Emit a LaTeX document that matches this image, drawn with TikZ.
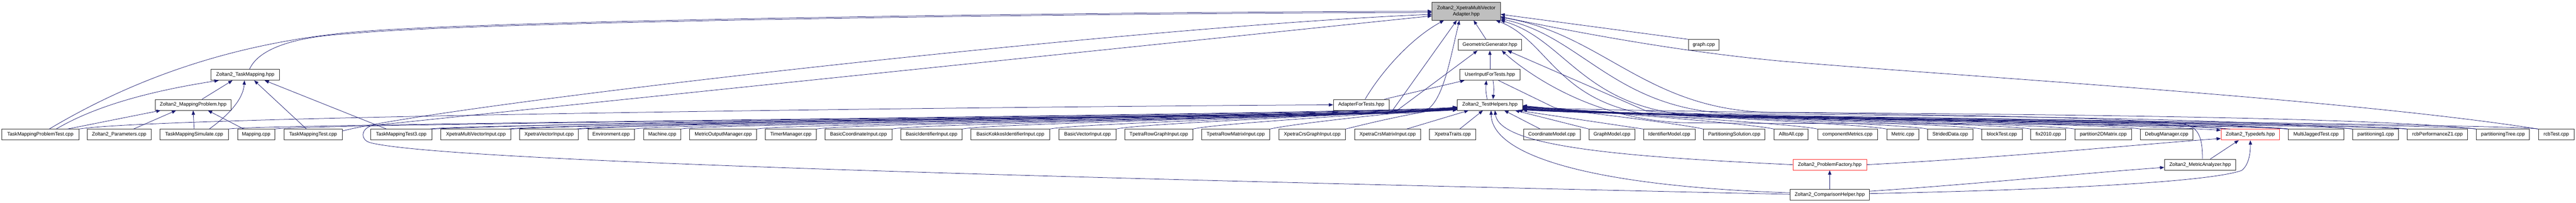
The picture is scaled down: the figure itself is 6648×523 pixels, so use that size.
\documentclass[tikz,border=0pt]{standalone}
\usepackage{fontspec}
\setmainfont{Liberation Sans}
\usetikzlibrary{arrows.meta}
\definecolor{edgec}{HTML}{191970}
\definecolor{boxc}{HTML}{2B2B2B}
\definecolor{topfill}{HTML}{BFBFBF}
\definecolor{redc}{HTML}{FF3030}
\begin{document}
\begin{tikzpicture}[x=1pt,y=-1pt,
 box/.style={draw=boxc,line width=1.1pt,fill=white,minimum height=28pt,inner sep=0pt,text=black,font=\fontsize{12.8pt}{16.5pt}\selectfont},
 redbox/.style={box,draw=redc},
 topbox/.style={box,fill=topfill,minimum height=46pt,align=center},
 edge/.style={draw=edgec,line width=1pt,-{Triangle[length=11pt,width=8.5pt]}},
]
\useasboundingbox (0,0) rectangle (6648,523);

% ---------- top / middle nodes
\node[topbox,minimum width=176pt] (xmva) at (3784,29) {Zoltan2\_XpetraMultiVector\\Adapter.hpp};
\node[box,minimum width=164pt] (gg) at (3845,116) {GeometricGenerator.hpp};
\node[box,minimum width=79pt] (graph) at (4397,116) {graph.cpp};
\node[box,minimum width=176pt] (tm) at (633,193) {Zoltan2\_TaskMapping.hpp};
\node[box,minimum width=156pt] (uift) at (3845,193) {UserInputForTests.hpp};
\node[box,minimum width=195pt] (mapprob) at (498.5,270.5) {Zoltan2\_MappingProblem.hpp};
\node[box,minimum width=144pt] (aft) at (3513,270.5) {AdapterForTests.hpp};
\node[box,minimum width=168pt] (th) at (3845,270.5) {Zoltan2\_TestHelpers.hpp};
\node[redbox,minimum width=190pt] (pf) at (4722,425) {Zoltan2\_ProblemFactory.hpp};
\node[box,minimum width=184pt] (ma) at (5678,425) {Zoltan2\_MetricAnalyzer.hpp};
\node[box,minimum width=205pt] (ch) at (4722,502.5) {Zoltan2\_ComparisonHelper.hpp};

% ---------- bottom row
\node[box,minimum width=199pt] (tmpt) at (104,347.5) {TaskMappingProblemTest.cpp};
\node[box,minimum width=165pt] (param) at (307.5,347.5) {Zoltan2\_Parameters.cpp};
\node[box,minimum width=176pt] (tmsim) at (501,347.5) {TaskMappingSimulate.cpp};
\node[box,minimum width=96pt] (mapping) at (661,347.5) {Mapping.cpp};
\node[box,minimum width=150pt] (tmtest) at (808,347.5) {TaskMappingTest.cpp};
\node[box,minimum width=159pt] (tmtestb) at (1035.5,347.5) {TaskMappingTest3.cpp};
\node[box,minimum width=181pt] (xmvi) at (1228,347.5) {XpetraMultiVectorInput.cpp};
\node[box,minimum width=152pt] (xvi) at (1417,347.5) {XpetraVectorInput.cpp};
\node[box,minimum width=120pt] (env) at (1577,347.5) {Environment.cpp};
\node[box,minimum width=96pt] (machine) at (1709,347.5) {Machine.cpp};
\node[box,minimum width=173pt] (mom) at (1866.5,347.5) {MetricOutputManager.cpp};
\node[box,minimum width=132pt] (timer) at (2041,347.5) {TimerManager.cpp};
\node[box,minimum width=173pt] (bci) at (2215.5,347.5) {BasicCoordinateInput.cpp};
\node[box,minimum width=158pt] (bii) at (2404,347.5) {BasicIdentifierInput.cpp};
\node[box,minimum width=203pt] (bkii) at (2607.5,347.5) {BasicKokkosIdentifierInput.cpp};
\node[box,minimum width=147pt] (bvi) at (2806.5,347.5) {BasicVectorInput.cpp};
\node[box,minimum width=175pt] (trgi) at (2990.5,347.5) {TpetraRowGraphInput.cpp};
\node[box,minimum width=176pt] (trmi) at (3189,347.5) {TpetraRowMatrixInput.cpp};
\node[box,minimum width=171pt] (xcgi) at (3386.5,347.5) {XpetraCrsGraphInput.cpp};
\node[box,minimum width=171pt] (xcmi) at (3581,347.5) {XpetraCrsMatrixInput.cpp};
\node[box,minimum width=120pt] (xtraits) at (3749,347.5) {XpetraTraits.cpp};
\node[box,minimum width=146pt] (coordm) at (4005,347.5) {CoordinateModel.cpp};
\node[box,minimum width=118pt] (graphm) at (4160,347.5) {GraphModel.cpp};
\node[box,minimum width=133pt] (idm) at (4308,347.5) {IdentifierModel.cpp};
\node[box,minimum width=159pt] (partsol) at (4475.5,347.5) {PartitioningSolution.cpp};
\node[box,minimum width=88pt] (atoa) at (4622.5,347.5) {AlltoAll.cpp};
\node[box,minimum width=154pt] (compm) at (4768,347.5) {componentMetrics.cpp};
\node[box,minimum width=83pt] (metric) at (4910.5,347.5) {Metric.cpp};
\node[box,minimum width=117pt] (strided) at (5033,347.5) {StridedData.cpp};
\node[box,minimum width=105pt] (block) at (5166.5,347.5) {blockTest.cpp};
\node[box,minimum width=90pt] (fix) at (5286,347.5) {fix2010.cpp};
\node[box,minimum width=147pt] (ptwod) at (5428,347.5) {partition2DMatrix.cpp};
\node[box,minimum width=135pt] (debug) at (5591.5,347.5) {DebugManager.cpp};
\node[redbox,minimum width=151pt] (typedefs) at (5807.5,347.5) {Zoltan2\_Typedefs.hpp};
\node[box,minimum width=143pt] (mjt) at (5977,347.5) {MultiJaggedTest.cpp};
\node[box,minimum width=118pt] (pone) at (6131,347.5) {partitioning1.cpp};
\node[box,minimum width=155pt] (rcbp) at (6290.5,347.5) {rcbPerformanceZ1.cpp};
\node[box,minimum width=137pt] (ptree) at (6459.5,347.5) {partitioningTree.cpp};
\node[box,minimum width=92pt] (rcbt) at (6597,347.5) {rcbTest.cpp};

% ---------- left part: mapping files
\draw[edge] ([xshift=70pt]tmpt.north) -- ([xshift=14pt]mapprob.south west);
\draw[edge] ([xshift=37pt]param.north) -- ([xshift=54pt]mapprob.south west);
\draw[edge] (tmsim.north) -- (mapprob.south);
\draw[edge] ([xshift=-32pt]mapping.north) -- ([xshift=38pt]mapprob.south);
\draw[edge] ([xshift=23pt]mapprob.north) -- ([xshift=-33pt]tm.south);
\draw[edge] ([xshift=41pt]tmpt.north) .. controls (260,265) and (420,230) .. ([xshift=20pt]tm.south west);
\draw[edge] ([xshift=39pt]tmsim.north) .. controls (600,290) and (628,250) .. ([xshift=-2pt]tm.south);
\draw[edge] ([xshift=-17pt]tmtest.north) -- ([xshift=23pt]tm.south);
\draw[edge] ([xshift=-38pt]tmtestb.north) -- ([xshift=50pt]tm.south);

% ---------- long edges into the top node from the left
\draw[edge] ([xshift=23pt]tmpt.north) .. controls (300,230) and (550,118) .. (900,84) .. controls (1250,50) and (3000,30) .. (xmva.west);
\draw[edge] ([xshift=11pt]tm.north) .. controls (668,125) and (760,95) .. (900,87) .. controls (1250,53) and (3000,33) .. ([yshift=-3pt]xmva.west);
\draw[edge] ([yshift=-5pt]tmtest.north east) .. controls (1150,270) and (2900,70) .. ([yshift=-8pt]xmva.west);
\draw[edge] ([yshift=1pt]ch.west) .. controls (3000,465) and (1150,420) .. (955,368) .. controls (930,361) and (930,333) .. (960,324) -- ([yshift=-12pt]xmva.west);
\draw[edge] (tmpt.north east) .. controls (400,300) and (2600,275) .. (aft.west);

% ---------- around the adapter / test helper nodes
\draw[edge] ([xshift=10pt]aft.north) .. controls (3565,185) and (3640,100) .. ([xshift=31pt]xmva.south west);
\draw[edge] ([xshift=60pt]aft.north) -- ([xshift=13pt]uift.south west);
\draw[edge] (xmvi.north east) .. controls (1800,310) and (3400,300) .. (3660,291) .. controls (3720,288) and (3738,170) .. ([xshift=71pt]xmva.south west);
\draw[edge] (xvi.north east) .. controls (2000,305) and (3300,300) .. (3590,290) -- ([xshift=64pt]xmva.south west);
\draw[edge] (tmtestb.north east) .. controls (1800,305) and (3300,300) .. (3600,289) -- ([xshift=-32pt]gg.south);
\draw[edge] ([xshift=-10pt]gg.north) -- ([xshift=19pt]xmva.south);
\draw[edge] (uift.north) -- (gg.south);
\draw[edge] ([xshift=-7pt]th.north) .. controls +(-4,-20) and +(-2,20) .. ([xshift=-9pt]uift.south);
\draw[edge] ([xshift=8pt]uift.south) .. controls +(3,20) and +(2,-20) .. ([xshift=8pt]th.north);
\draw[edge] ([xshift=22pt]uift.south) -- (4010,277) .. controls (4060,301) and (5300,310) .. ([yshift=-3pt]typedefs.north west);

% ---------- bundle into TestHelpers from the left
\draw[edge] (tmsim.north east) .. controls +(60,-14) and +(-300,20) .. ([yshift=-6pt]th.west);
\draw[edge] (mapping.north east) .. controls +(60,-14) and +(-300,20) .. ([yshift=-7pt]th.west);
\draw[edge] ([xshift=-6pt]tmtestb.north east) .. controls +(60,-14) and +(-300,20) .. ([yshift=-8pt]th.west);
\draw[edge] ([xshift=-6pt]xmvi.north east) .. controls +(60,-14) and +(-300,20) .. ([yshift=-9pt]th.west);
\draw[edge] ([xshift=-6pt]xvi.north east) .. controls +(60,-14) and +(-300,20) .. ([yshift=-10pt]th.west);
\draw[edge] (env.north east) .. controls +(60,-14) and +(-300,20) .. ([yshift=-11pt]th.west);
\draw[edge] (machine.north east) .. controls +(60,-14) and +(-300,20) .. ([yshift=-12pt]th.west);
\draw[edge] (mom.north east) .. controls +(60,-14) and +(-300,20) .. ([yshift=-13pt]th.west);
\draw[edge] (timer.north east) .. controls +(60,-14) and +(-300,20) .. ([yshift=-12.5pt]th.west);
\draw[edge] (bci.north east) .. controls +(60,-14) and +(-300,20) .. ([yshift=-11.5pt]th.west);
\draw[edge] (bii.north east) .. controls +(60,-14) and +(-300,20) .. ([yshift=-10.5pt]th.west);
\draw[edge] (bkii.north east) .. controls +(60,-14) and +(-300,20) .. ([yshift=-9.5pt]th.west);
\draw[edge] (bvi.north east) .. controls +(60,-14) and +(-300,20) .. ([yshift=-8.5pt]th.west);
\draw[edge] (trgi.north east) .. controls +(60,-14) and +(-260,20) .. ([yshift=-7.5pt]th.west);
\draw[edge] (trmi.north east) .. controls +(50,-12) and +(-200,18) .. ([yshift=-6.5pt]th.west);
\draw[edge] (xcgi.north east) .. controls +(40,-10) and +(-120,15) .. ([yshift=-5.5pt]th.west);
\draw[edge] ([xshift=49pt]xcmi.north) -- ([xshift=-55pt]th.south);
\draw[edge] ([xshift=18pt]xtraits.north) -- ([xshift=-18pt]th.south);

% ---------- bundle into TestHelpers from the right
\draw[edge] ([xshift=-30pt]coordm.north) -- ([xshift=37pt]th.south);
\draw[edge] (graphm.north west) -- ([xshift=65pt]th.south);
\draw[edge] (idm.north west) -- ([xshift=-12pt]th.south east);
\draw[edge] (partsol.north west) .. controls +(-50,-12) and +(150,15) .. ([yshift=-2pt]th.east);
\draw[edge] (atoa.north west) .. controls +(-60,-14) and +(220,18) .. ([yshift=-3pt]th.east);
\draw[edge] (compm.north west) .. controls +(-60,-14) and +(260,20) .. ([yshift=-4pt]th.east);
\draw[edge] (metric.north west) .. controls +(-60,-14) and +(300,20) .. ([yshift=-5pt]th.east);
\draw[edge] (strided.north west) .. controls +(-60,-14) and +(300,20) .. ([yshift=-6pt]th.east);
\draw[edge] (block.north west) .. controls +(-60,-14) and +(300,20) .. ([yshift=-7pt]th.east);
\draw[edge] (fix.north west) .. controls +(-60,-14) and +(300,20) .. ([yshift=-8pt]th.east);
\draw[edge] (ptwod.north west) .. controls +(-60,-14) and +(300,20) .. ([yshift=-9pt]th.east);
\draw[edge] (debug.north west) .. controls +(-60,-14) and +(300,20) .. ([yshift=-10pt]th.east);
\draw[edge] ([xshift=12pt]typedefs.north west) .. controls +(-60,-14) and +(300,20) .. ([yshift=-11pt]th.east);
\draw[edge] (mjt.north west) .. controls +(-60,-14) and +(300,20) .. ([yshift=-12pt]th.east);
\draw[edge] (pone.north west) .. controls +(-60,-14) and +(300,20) .. ([yshift=-13pt]th.east);
\draw[edge] (rcbp.north west) .. controls +(-60,-14) and +(300,20) .. ([yshift=-12.5pt]th.east);
\draw[edge] (ptree.north west) .. controls +(-60,-14) and +(300,20) .. ([yshift=-11.5pt]th.east);
\draw[edge] (rcbt.north west) .. controls +(-60,-14) and +(300,20) .. ([yshift=-10.5pt]th.east);
\draw[edge] ([xshift=6pt]ma.north) .. controls (5684,345) and (5670,322) .. (5620,318) .. controls (5300,292) and (4300,292) .. ([yshift=-6pt]th.east);

% ---------- right side edges to the top node and GeometricGenerator
\draw[edge] (graph.north west) -- ([yshift=-8pt]xmva.east);
\draw[edge] (rcbt.north west) .. controls (6050,255) and (5100,200) .. (4600,158) .. controls (4350,135) and (4100,90) .. ([yshift=-14pt]xmva.east);
\draw[edge] ([xshift=24pt]typedefs.north west) .. controls (5500,310) and (4800,305) .. (4360,303) .. controls (4020,302) and (4010,110) .. ([xshift=-12pt]xmva.south east);
\draw[edge] (mjt.north west) .. controls (5600,308) and (4900,302) .. (4420,299) .. controls (4090,298) and (4050,105) .. (xmva.south east);
\draw[edge] (pone.north west) .. controls (5800,305) and (5000,298) .. (4500,294) .. controls (4170,293) and (4090,95) .. ([yshift=4pt]xmva.south east);
\draw[edge] (ptree.north west) .. controls (6100,300) and (5100,294) .. (4580,290) .. controls (4250,289) and (4140,88) .. ([yshift=8pt]xmva.south east);
\draw[edge] (mjt.north west) .. controls (5700,318) and (4700,320) .. (4360,317) .. controls (4100,314) and (3925,175) .. ([xshift=-52pt]gg.south east);
\draw[edge] (rcbp.north west) .. controls (5900,315) and (4600,310) .. (4250,287) -- ([xshift=-37pt]gg.south east);

% ---------- lower helper headers
\draw[edge] (pf.west) .. controls (4200,405) and (3870,380) .. ([xshift=13pt]th.south);
\draw[edge] ([yshift=5pt]ch.west) .. controls (4100,480) and (3850,400) .. ([xshift=3pt]th.south);
\draw[edge] (ch.north) -- (pf.south);
\draw[edge] ([yshift=9pt]ch.east) .. controls (5100,475) and (5400,445) .. ([yshift=-7pt]ma.west);
\draw[edge] ([yshift=3pt]ch.east) .. controls (5300,490) and (5700,470) .. (5785,440) .. controls (5805,425) and (5808,390) .. (typedefs.south);
\draw[edge] (pf.east) .. controls (5200,405) and (5550,370) .. ([yshift=-10pt]typedefs.west);
\draw[edge] ([xshift=26pt]ma.north) -- ([xshift=-30pt]typedefs.south);
\end{tikzpicture}
\end{document}
